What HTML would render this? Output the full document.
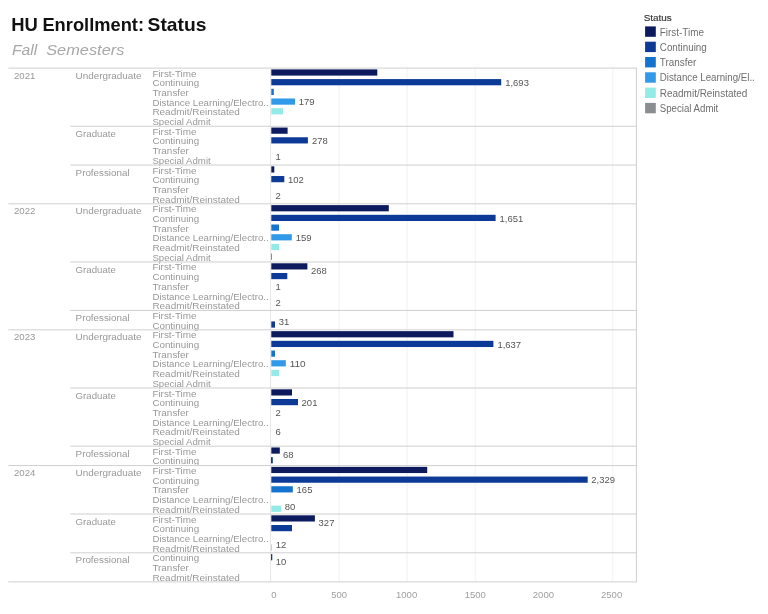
<!DOCTYPE html>
<html><head><meta charset="utf-8"><title>HU Enrollment: Status</title>
<style>html,body{margin:0;padding:0;background:#fff;}body{width:768px;height:614px;overflow:hidden;font-family:"Liberation Sans",sans-serif;}svg{display:block;will-change:transform;}</style></head>
<body>
<svg width="768" height="614" viewBox="0 0 768 614" font-family="'Liberation Sans', sans-serif">
<rect width="768" height="614" fill="#fff"/>
<text x="11.3" y="31.4" font-size="18.5" font-weight="bold" fill="#111" textLength="26.6" lengthAdjust="spacingAndGlyphs">HU</text>
<text x="42.4" y="31.4" font-size="18.5" font-weight="bold" fill="#111" textLength="101.6" lengthAdjust="spacingAndGlyphs">Enrollment:</text>
<text x="147.6" y="31.4" font-size="18.5" font-weight="bold" fill="#111" textLength="58.8" lengthAdjust="spacingAndGlyphs">Status</text>
<text x="12.0" y="55.0" font-size="15.5" font-style="italic" fill="#a8a8a8" textLength="25.2" lengthAdjust="spacingAndGlyphs">Fall</text>
<text x="46.2" y="55.0" font-size="15.5" font-style="italic" fill="#a8a8a8" textLength="78.2" lengthAdjust="spacingAndGlyphs">Semesters</text>
<rect x="338.00" y="68.10" width="1.8" height="513.78" fill="#f7f7f7"/>
<rect x="406.30" y="68.10" width="1.8" height="513.78" fill="#f7f7f7"/>
<rect x="474.50" y="68.10" width="1.8" height="513.78" fill="#f7f7f7"/>
<rect x="611.70" y="68.10" width="1.8" height="513.78" fill="#f7f7f7"/>
<rect x="270.1" y="68.10" width="1" height="513.78" fill="#e6e6e6"/>
<text x="14" y="78.70" font-size="9.6" fill="#989898" textLength="21.4" lengthAdjust="spacingAndGlyphs">2021</text>
<text x="75.6" y="78.70" font-size="9.6" fill="#989898" textLength="66.0" lengthAdjust="spacingAndGlyphs">Undergraduate</text>
<text x="152.4" y="76.60" font-size="9.3" fill="#989898" textLength="44.1" lengthAdjust="spacingAndGlyphs">First-Time</text>
<rect x="271.3" y="69.40" width="106.00" height="6.2" fill="#0d1b5e"/>
<text x="152.4" y="86.29" font-size="9.3" fill="#989898" textLength="46.8" lengthAdjust="spacingAndGlyphs">Continuing</text>
<rect x="271.3" y="79.09" width="229.90" height="6.2" fill="#0c3a96"/>
<text x="505.2" y="85.99" font-size="9.6" fill="#555555" textLength="23.72" lengthAdjust="spacingAndGlyphs">1,693</text>
<text x="152.4" y="95.99" font-size="9.3" fill="#989898" textLength="36.5" lengthAdjust="spacingAndGlyphs">Transfer</text>
<rect x="271.3" y="88.79" width="2.50" height="6.2" fill="#1473cf"/>
<text x="152.4" y="105.68" font-size="9.3" fill="#989898" textLength="116.3" lengthAdjust="spacingAndGlyphs">Distance Learning/Electro..</text>
<rect x="271.3" y="98.48" width="23.80" height="6.2" fill="#3099e8"/>
<text x="298.8" y="105.38" font-size="9.6" fill="#555555" textLength="15.84" lengthAdjust="spacingAndGlyphs">179</text>
<text x="152.4" y="115.38" font-size="9.3" fill="#989898" textLength="87.5" lengthAdjust="spacingAndGlyphs">Readmit/Reinstated</text>
<rect x="271.3" y="108.18" width="11.70" height="6.2" fill="#93ebe8"/>
<text x="152.4" y="125.07" font-size="9.3" fill="#989898" textLength="58.3" lengthAdjust="spacingAndGlyphs">Special Admit</text>
<text x="75.6" y="136.86" font-size="9.6" fill="#989898" textLength="40.2" lengthAdjust="spacingAndGlyphs">Graduate</text>
<text x="152.4" y="134.76" font-size="9.3" fill="#989898" textLength="44.1" lengthAdjust="spacingAndGlyphs">First-Time</text>
<rect x="271.3" y="127.56" width="16.30" height="6.2" fill="#0d1b5e"/>
<text x="152.4" y="144.46" font-size="9.3" fill="#989898" textLength="46.8" lengthAdjust="spacingAndGlyphs">Continuing</text>
<rect x="271.3" y="137.26" width="36.60" height="6.2" fill="#0c3a96"/>
<text x="311.9" y="144.16" font-size="9.6" fill="#555555" textLength="15.84" lengthAdjust="spacingAndGlyphs">278</text>
<text x="152.4" y="154.15" font-size="9.3" fill="#989898" textLength="36.5" lengthAdjust="spacingAndGlyphs">Transfer</text>
<text x="152.4" y="163.85" font-size="9.3" fill="#989898" textLength="58.3" lengthAdjust="spacingAndGlyphs">Special Admit</text>
<text x="275.6" y="159.85" font-size="9.6" fill="#555555" textLength="5.28" lengthAdjust="spacingAndGlyphs">1</text>
<text x="75.6" y="175.64" font-size="9.6" fill="#989898" textLength="54.0" lengthAdjust="spacingAndGlyphs">Professional</text>
<text x="152.4" y="173.54" font-size="9.3" fill="#989898" textLength="44.1" lengthAdjust="spacingAndGlyphs">First-Time</text>
<rect x="271.3" y="166.34" width="3.00" height="6.2" fill="#0d1b5e"/>
<text x="152.4" y="183.23" font-size="9.3" fill="#989898" textLength="46.8" lengthAdjust="spacingAndGlyphs">Continuing</text>
<rect x="271.3" y="176.03" width="13.00" height="6.2" fill="#0c3a96"/>
<text x="288.0" y="182.93" font-size="9.6" fill="#555555" textLength="15.84" lengthAdjust="spacingAndGlyphs">102</text>
<text x="152.4" y="192.93" font-size="9.3" fill="#989898" textLength="36.5" lengthAdjust="spacingAndGlyphs">Transfer</text>
<text x="152.4" y="202.62" font-size="9.3" fill="#989898" textLength="87.5" lengthAdjust="spacingAndGlyphs">Readmit/Reinstated</text>
<text x="275.5" y="198.92" font-size="9.6" fill="#555555" textLength="5.28" lengthAdjust="spacingAndGlyphs">2</text>
<text x="14" y="214.42" font-size="9.6" fill="#989898" textLength="21.4" lengthAdjust="spacingAndGlyphs">2022</text>
<text x="75.6" y="214.42" font-size="9.6" fill="#989898" textLength="66.0" lengthAdjust="spacingAndGlyphs">Undergraduate</text>
<text x="152.4" y="212.32" font-size="9.3" fill="#989898" textLength="44.1" lengthAdjust="spacingAndGlyphs">First-Time</text>
<rect x="271.3" y="205.12" width="117.50" height="6.2" fill="#0d1b5e"/>
<text x="152.4" y="222.01" font-size="9.3" fill="#989898" textLength="46.8" lengthAdjust="spacingAndGlyphs">Continuing</text>
<rect x="271.3" y="214.81" width="224.30" height="6.2" fill="#0c3a96"/>
<text x="499.6" y="221.71" font-size="9.6" fill="#555555" textLength="23.72" lengthAdjust="spacingAndGlyphs">1,651</text>
<text x="152.4" y="231.70" font-size="9.3" fill="#989898" textLength="36.5" lengthAdjust="spacingAndGlyphs">Transfer</text>
<rect x="271.3" y="224.50" width="7.70" height="6.2" fill="#1473cf"/>
<text x="152.4" y="241.40" font-size="9.3" fill="#989898" textLength="116.3" lengthAdjust="spacingAndGlyphs">Distance Learning/Electro..</text>
<rect x="271.3" y="234.20" width="20.50" height="6.2" fill="#3099e8"/>
<text x="295.8" y="241.10" font-size="9.6" fill="#555555" textLength="15.84" lengthAdjust="spacingAndGlyphs">159</text>
<text x="152.4" y="251.09" font-size="9.3" fill="#989898" textLength="87.5" lengthAdjust="spacingAndGlyphs">Readmit/Reinstated</text>
<rect x="271.3" y="243.89" width="7.70" height="6.2" fill="#93ebe8"/>
<text x="152.4" y="260.79" font-size="9.3" fill="#989898" textLength="58.3" lengthAdjust="spacingAndGlyphs">Special Admit</text>
<rect x="271.0" y="253.59" width="1.00" height="6.2" fill="#8a8e91"/>
<text x="75.6" y="272.58" font-size="9.6" fill="#989898" textLength="40.2" lengthAdjust="spacingAndGlyphs">Graduate</text>
<text x="152.4" y="270.48" font-size="9.3" fill="#989898" textLength="44.1" lengthAdjust="spacingAndGlyphs">First-Time</text>
<rect x="271.3" y="263.28" width="36.10" height="6.2" fill="#0d1b5e"/>
<text x="310.9" y="273.68" font-size="9.6" fill="#555555" textLength="15.84" lengthAdjust="spacingAndGlyphs">268</text>
<text x="152.4" y="280.17" font-size="9.3" fill="#989898" textLength="46.8" lengthAdjust="spacingAndGlyphs">Continuing</text>
<rect x="271.3" y="272.97" width="16.00" height="6.2" fill="#0c3a96"/>
<text x="152.4" y="289.87" font-size="9.3" fill="#989898" textLength="36.5" lengthAdjust="spacingAndGlyphs">Transfer</text>
<text x="275.6" y="289.57" font-size="9.6" fill="#555555" textLength="5.28" lengthAdjust="spacingAndGlyphs">1</text>
<text x="152.4" y="299.56" font-size="9.3" fill="#989898" textLength="116.3" lengthAdjust="spacingAndGlyphs">Distance Learning/Electro..</text>
<text x="152.4" y="309.26" font-size="9.3" fill="#989898" textLength="87.5" lengthAdjust="spacingAndGlyphs">Readmit/Reinstated</text>
<text x="275.5" y="305.56" font-size="9.6" fill="#555555" textLength="5.28" lengthAdjust="spacingAndGlyphs">2</text>
<text x="75.6" y="321.05" font-size="9.6" fill="#989898" textLength="54.0" lengthAdjust="spacingAndGlyphs">Professional</text>
<text x="152.4" y="318.95" font-size="9.3" fill="#989898" textLength="44.1" lengthAdjust="spacingAndGlyphs">First-Time</text>
<text x="152.4" y="328.64" font-size="9.3" fill="#989898" textLength="46.8" lengthAdjust="spacingAndGlyphs">Continuing</text>
<rect x="271.3" y="321.44" width="3.70" height="6.2" fill="#0c3a96"/>
<text x="278.8" y="325.14" font-size="9.6" fill="#555555" textLength="10.56" lengthAdjust="spacingAndGlyphs">31</text>
<text x="14" y="340.44" font-size="9.6" fill="#989898" textLength="21.4" lengthAdjust="spacingAndGlyphs">2023</text>
<text x="75.6" y="340.44" font-size="9.6" fill="#989898" textLength="66.0" lengthAdjust="spacingAndGlyphs">Undergraduate</text>
<text x="152.4" y="338.34" font-size="9.3" fill="#989898" textLength="44.1" lengthAdjust="spacingAndGlyphs">First-Time</text>
<rect x="271.3" y="331.14" width="182.20" height="6.2" fill="#0d1b5e"/>
<text x="152.4" y="348.03" font-size="9.3" fill="#989898" textLength="46.8" lengthAdjust="spacingAndGlyphs">Continuing</text>
<rect x="271.3" y="340.83" width="222.10" height="6.2" fill="#0c3a96"/>
<text x="497.4" y="347.73" font-size="9.6" fill="#555555" textLength="23.72" lengthAdjust="spacingAndGlyphs">1,637</text>
<text x="152.4" y="357.73" font-size="9.3" fill="#989898" textLength="36.5" lengthAdjust="spacingAndGlyphs">Transfer</text>
<rect x="271.3" y="350.53" width="3.70" height="6.2" fill="#1473cf"/>
<text x="152.4" y="367.42" font-size="9.3" fill="#989898" textLength="116.3" lengthAdjust="spacingAndGlyphs">Distance Learning/Electro..</text>
<rect x="271.3" y="360.22" width="14.50" height="6.2" fill="#3099e8"/>
<text x="289.8" y="367.12" font-size="9.6" fill="#555555" textLength="15.84" lengthAdjust="spacingAndGlyphs">110</text>
<text x="152.4" y="377.11" font-size="9.3" fill="#989898" textLength="87.5" lengthAdjust="spacingAndGlyphs">Readmit/Reinstated</text>
<rect x="271.3" y="369.91" width="7.70" height="6.2" fill="#93ebe8"/>
<text x="152.4" y="386.81" font-size="9.3" fill="#989898" textLength="58.3" lengthAdjust="spacingAndGlyphs">Special Admit</text>
<text x="75.6" y="398.60" font-size="9.6" fill="#989898" textLength="40.2" lengthAdjust="spacingAndGlyphs">Graduate</text>
<text x="152.4" y="396.50" font-size="9.3" fill="#989898" textLength="44.1" lengthAdjust="spacingAndGlyphs">First-Time</text>
<rect x="271.3" y="389.30" width="20.70" height="6.2" fill="#0d1b5e"/>
<text x="152.4" y="406.20" font-size="9.3" fill="#989898" textLength="46.8" lengthAdjust="spacingAndGlyphs">Continuing</text>
<rect x="271.3" y="399.00" width="26.70" height="6.2" fill="#0c3a96"/>
<text x="301.6" y="405.90" font-size="9.6" fill="#555555" textLength="15.84" lengthAdjust="spacingAndGlyphs">201</text>
<text x="152.4" y="415.89" font-size="9.3" fill="#989898" textLength="36.5" lengthAdjust="spacingAndGlyphs">Transfer</text>
<text x="275.5" y="415.59" font-size="9.6" fill="#555555" textLength="5.28" lengthAdjust="spacingAndGlyphs">2</text>
<text x="152.4" y="425.58" font-size="9.3" fill="#989898" textLength="116.3" lengthAdjust="spacingAndGlyphs">Distance Learning/Electro..</text>
<text x="152.4" y="435.28" font-size="9.3" fill="#989898" textLength="87.5" lengthAdjust="spacingAndGlyphs">Readmit/Reinstated</text>
<text x="275.5" y="434.98" font-size="9.6" fill="#555555" textLength="5.28" lengthAdjust="spacingAndGlyphs">6</text>
<text x="152.4" y="444.97" font-size="9.3" fill="#989898" textLength="58.3" lengthAdjust="spacingAndGlyphs">Special Admit</text>
<text x="75.6" y="456.77" font-size="9.6" fill="#989898" textLength="54.0" lengthAdjust="spacingAndGlyphs">Professional</text>
<text x="152.4" y="454.67" font-size="9.3" fill="#989898" textLength="44.1" lengthAdjust="spacingAndGlyphs">First-Time</text>
<rect x="271.3" y="447.47" width="8.50" height="6.2" fill="#0d1b5e"/>
<text x="283.0" y="457.87" font-size="9.6" fill="#555555" textLength="10.56" lengthAdjust="spacingAndGlyphs">68</text>
<text x="152.4" y="464.36" font-size="9.3" fill="#989898" textLength="46.8" lengthAdjust="spacingAndGlyphs">Continuing</text>
<rect x="271.0" y="457.16" width="1.80" height="6.2" fill="#0c3a96"/>
<text x="14" y="476.15" font-size="9.6" fill="#989898" textLength="21.4" lengthAdjust="spacingAndGlyphs">2024</text>
<text x="75.6" y="476.15" font-size="9.6" fill="#989898" textLength="66.0" lengthAdjust="spacingAndGlyphs">Undergraduate</text>
<text x="152.4" y="474.05" font-size="9.3" fill="#989898" textLength="44.1" lengthAdjust="spacingAndGlyphs">First-Time</text>
<rect x="271.3" y="466.85" width="155.90" height="6.2" fill="#0d1b5e"/>
<text x="152.4" y="483.75" font-size="9.3" fill="#989898" textLength="46.8" lengthAdjust="spacingAndGlyphs">Continuing</text>
<rect x="271.3" y="476.55" width="316.40" height="6.2" fill="#0c3a96"/>
<text x="591.3" y="483.45" font-size="9.6" fill="#555555" textLength="23.72" lengthAdjust="spacingAndGlyphs">2,329</text>
<text x="152.4" y="493.44" font-size="9.3" fill="#989898" textLength="36.5" lengthAdjust="spacingAndGlyphs">Transfer</text>
<rect x="271.3" y="486.24" width="21.50" height="6.2" fill="#1473cf"/>
<text x="296.6" y="493.14" font-size="9.6" fill="#555555" textLength="15.84" lengthAdjust="spacingAndGlyphs">165</text>
<text x="152.4" y="503.14" font-size="9.3" fill="#989898" textLength="116.3" lengthAdjust="spacingAndGlyphs">Distance Learning/Electro..</text>
<text x="152.4" y="512.83" font-size="9.3" fill="#989898" textLength="87.5" lengthAdjust="spacingAndGlyphs">Readmit/Reinstated</text>
<rect x="271.3" y="505.63" width="9.70" height="6.2" fill="#93ebe8"/>
<text x="284.8" y="509.73" font-size="9.6" fill="#555555" textLength="10.56" lengthAdjust="spacingAndGlyphs">80</text>
<text x="75.6" y="524.62" font-size="9.6" fill="#989898" textLength="40.2" lengthAdjust="spacingAndGlyphs">Graduate</text>
<text x="152.4" y="522.52" font-size="9.3" fill="#989898" textLength="44.1" lengthAdjust="spacingAndGlyphs">First-Time</text>
<rect x="271.3" y="515.32" width="43.60" height="6.2" fill="#0d1b5e"/>
<text x="318.6" y="525.72" font-size="9.6" fill="#555555" textLength="15.84" lengthAdjust="spacingAndGlyphs">327</text>
<text x="152.4" y="532.22" font-size="9.3" fill="#989898" textLength="46.8" lengthAdjust="spacingAndGlyphs">Continuing</text>
<rect x="271.3" y="525.02" width="20.70" height="6.2" fill="#0c3a96"/>
<text x="152.4" y="541.91" font-size="9.3" fill="#989898" textLength="116.3" lengthAdjust="spacingAndGlyphs">Distance Learning/Electro..</text>
<text x="152.4" y="551.61" font-size="9.3" fill="#989898" textLength="87.5" lengthAdjust="spacingAndGlyphs">Readmit/Reinstated</text>
<rect x="271.0" y="544.41" width="1.00" height="6.2" fill="#93ebe8"/>
<text x="275.8" y="547.81" font-size="9.6" fill="#555555" textLength="10.56" lengthAdjust="spacingAndGlyphs">12</text>
<text x="75.6" y="563.40" font-size="9.6" fill="#989898" textLength="54.0" lengthAdjust="spacingAndGlyphs">Professional</text>
<text x="152.4" y="561.30" font-size="9.3" fill="#989898" textLength="46.8" lengthAdjust="spacingAndGlyphs">Continuing</text>
<rect x="271.0" y="554.10" width="1.30" height="6.2" fill="#0c3a96"/>
<text x="275.8" y="564.80" font-size="9.6" fill="#555555" textLength="10.56" lengthAdjust="spacingAndGlyphs">10</text>
<text x="152.4" y="570.99" font-size="9.3" fill="#989898" textLength="36.5" lengthAdjust="spacingAndGlyphs">Transfer</text>
<text x="152.4" y="580.69" font-size="9.3" fill="#989898" textLength="87.5" lengthAdjust="spacingAndGlyphs">Readmit/Reinstated</text>
<rect x="8.3" y="67.60" width="628.60" height="1" fill="#d0d0d0"/>
<rect x="70.4" y="125.76" width="566.50" height="1" fill="#d0d0d0"/>
<rect x="70.4" y="164.54" width="566.50" height="1" fill="#d0d0d0"/>
<rect x="8.3" y="203.32" width="628.60" height="1" fill="#d0d0d0"/>
<rect x="70.4" y="261.48" width="566.50" height="1" fill="#d0d0d0"/>
<rect x="70.4" y="309.95" width="566.50" height="1" fill="#d0d0d0"/>
<rect x="8.3" y="329.34" width="628.60" height="1" fill="#d0d0d0"/>
<rect x="70.4" y="387.50" width="566.50" height="1" fill="#d0d0d0"/>
<rect x="70.4" y="445.67" width="566.50" height="1" fill="#d0d0d0"/>
<rect x="8.3" y="465.05" width="628.60" height="1" fill="#d0d0d0"/>
<rect x="70.4" y="513.52" width="566.50" height="1" fill="#d0d0d0"/>
<rect x="70.4" y="552.30" width="566.50" height="1" fill="#d0d0d0"/>
<rect x="8.3" y="581.38" width="628.60" height="1" fill="#d0d0d0"/>
<rect x="635.90" y="67.60" width="1" height="514.78" fill="#d0d0d0"/>
<text x="271.35" y="598.0" font-size="9.5" fill="#a0a0a0" textLength="5.30" lengthAdjust="spacingAndGlyphs">0</text>
<text x="331.25" y="598.0" font-size="9.5" fill="#a0a0a0" textLength="15.90" lengthAdjust="spacingAndGlyphs">500</text>
<text x="396.00" y="598.0" font-size="9.5" fill="#a0a0a0" textLength="21.20" lengthAdjust="spacingAndGlyphs">1000</text>
<text x="464.70" y="598.0" font-size="9.5" fill="#a0a0a0" textLength="21.20" lengthAdjust="spacingAndGlyphs">1500</text>
<text x="532.80" y="598.0" font-size="9.5" fill="#a0a0a0" textLength="21.20" lengthAdjust="spacingAndGlyphs">2000</text>
<text x="601.00" y="598.0" font-size="9.5" fill="#a0a0a0" textLength="21.20" lengthAdjust="spacingAndGlyphs">2500</text>
<text x="643.7" y="21.1" font-size="9.6" fill="#333" stroke="#333" stroke-width="0.15" textLength="28.1" lengthAdjust="spacingAndGlyphs">Status</text>
<rect x="645.1" y="26.40" width="10.7" height="10.4" fill="#0d1b5e"/>
<text x="659.8" y="35.50" font-size="10" fill="#6e6e6e" textLength="44.2" lengthAdjust="spacingAndGlyphs">First-Time</text>
<rect x="645.1" y="41.70" width="10.7" height="10.4" fill="#0c3a96"/>
<text x="659.8" y="50.80" font-size="10" fill="#6e6e6e" textLength="47.0" lengthAdjust="spacingAndGlyphs">Continuing</text>
<rect x="645.1" y="57.00" width="10.7" height="10.4" fill="#1473cf"/>
<text x="659.8" y="66.10" font-size="10" fill="#6e6e6e" textLength="36.5" lengthAdjust="spacingAndGlyphs">Transfer</text>
<rect x="645.1" y="72.30" width="10.7" height="10.4" fill="#3099e8"/>
<text x="659.8" y="81.40" font-size="10" fill="#6e6e6e" textLength="95.0" lengthAdjust="spacingAndGlyphs">Distance Learning/El..</text>
<rect x="645.1" y="87.60" width="10.7" height="10.4" fill="#93ebe8"/>
<text x="659.8" y="96.70" font-size="10" fill="#6e6e6e" textLength="87.5" lengthAdjust="spacingAndGlyphs">Readmit/Reinstated</text>
<rect x="645.1" y="102.90" width="10.7" height="10.4" fill="#8a8e91"/>
<text x="659.8" y="112.00" font-size="10" fill="#6e6e6e" textLength="58.5" lengthAdjust="spacingAndGlyphs">Special Admit</text>
</svg>
</body></html>
